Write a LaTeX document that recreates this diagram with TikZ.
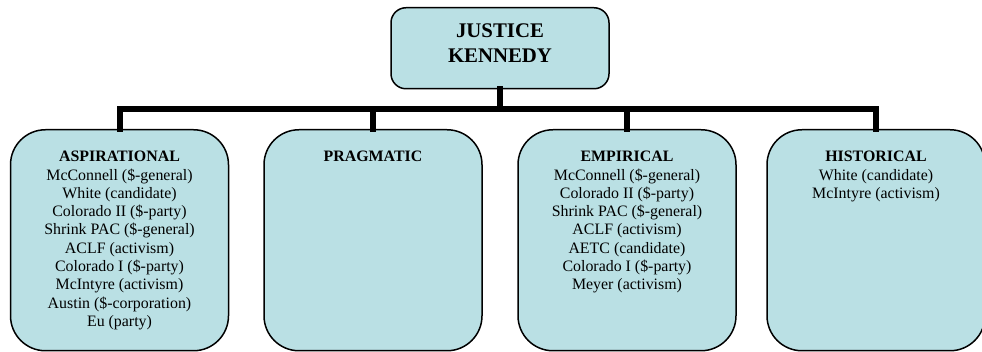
\documentclass[tikz,border=0pt]{standalone}
\usepackage{fontspec}
\setmainfont{Liberation Serif}
\definecolor{boxfill}{RGB}{186,224,228}
\begin{document}
\begin{tikzpicture}[x=1pt,y=-1pt,
  box/.style={draw=black, line width=1.5pt, fill=boxfill, rounded corners=35pt,
    minimum width=218pt, minimum height=221pt, inner sep=0pt, anchor=north},
  headbox/.style={draw=black, line width=1.5pt, fill=boxfill, rounded corners=15pt,
    minimum width=218pt, minimum height=81pt, inner sep=0pt, anchor=north},
  list/.style={anchor=north, inner sep=0pt, align=center,
    font=\fontsize{15.9}{18.3}\selectfont},
  conn/.style={line width=6pt, line join=miter, line cap=rect}]
  \useasboundingbox (0,0) rectangle (982,352);

  % head of the tree
  \node[headbox] (top) at (500,7) {};
  \node[anchor=north, inner sep=0pt, align=center,
        font=\fontsize{20.8}{25}\selectfont\bfseries] (toptext) at ([yshift=-17pt]top.north)
        {JUSTICE\\KENNEDY};

  % the four branches
  \node[box] (asp)  at (119.5,129) {};
  \node[box] (prag) at (373,129) {};
  \node[box] (emp)  at (627,129) {};
  \node[box] (hist) at (876,129) {};

  % connectors
  \coordinate (bar) at (0,109);
  \draw[conn] (top.south) -- (top.south |- bar);
  \draw[conn] (asp.north) -- (asp.north |- bar) -- (hist.north |- bar) -- (hist.north);
  \draw[conn] (prag.north |- bar) -- (prag.north);
  \draw[conn] (emp.north |- bar) -- (emp.north);

  % texts of the branches
  \node[list] (asptext) at ([yshift=-22pt]asp.north)
    {\textbf{ASPIRATIONAL}\\McConnell (\$-general)\\White (candidate)\\Colorado II (\$-party)\\
     Shrink PAC (\$-general)\\ACLF (activism)\\Colorado I (\$-party)\\McIntyre (activism)\\
     Austin (\$-corporation)\\Eu (party)};
  \node[list] (pragtext) at ([yshift=-22pt]prag.north) {\textbf{PRAGMATIC}};
  \node[list] (emptext) at ([yshift=-22pt]emp.north)
    {\textbf{EMPIRICAL}\\McConnell (\$-general)\\Colorado II (\$-party)\\Shrink PAC (\$-general)\\
     ACLF (activism)\\AETC (candidate)\\Colorado I (\$-party)\\Meyer (activism)};
  \node[list] (histtext) at ([yshift=-22pt]hist.north)
    {\textbf{HISTORICAL}\\White (candidate)\\McIntyre (activism)};
\end{tikzpicture}
\end{document}
